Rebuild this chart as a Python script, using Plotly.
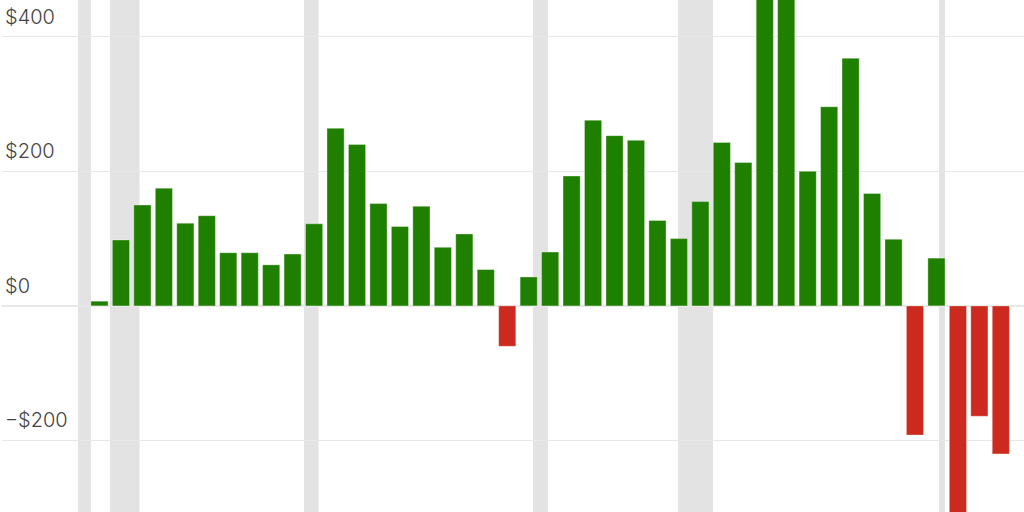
import plotly.graph_objects as go

# Data (annual values)
years = list(range(1981, 2024))
values = [7, 98, 150, 175, 123, 134, 79, 79, 61, 77,
          122, 264, 240, 152, 118, 148, 87, 107, 54, -60,
          43, 80, 193, 276, 253, 246, 127, 100, 155, 243,
          213, 520, 500, 200, 296, 368, 167, 99, -192, 71,
          -340, -164, -220]

# Recession bands (decimal years)
band_starts = [1980.0, 1981.49, 1990.53, 2001.2, 2007.96, 2020.12]
band_ends = [1980.6, 1982.87, 1991.21, 2001.9, 2009.59, 2020.40]

tick_vals = [-200, 0, 200, 400]
tick_text = ["\u2212$200", "$0", "$200", "$400"]

GREEN = "#1f8000"
RED = "#cc2a1e"
colors = [GREEN if v >= 0 else RED for v in values]

fig = go.Figure()
fig.add_trace(go.Bar(
    x=years, y=values,
    marker=dict(color=colors, line=dict(color="rgba(255,255,255,0.35)", width=1)),
    width=0.8,
    hoverinfo="skip",
))

for s, e in zip(band_starts, band_ends):
    fig.add_shape(type="rect", xref="x", yref="paper", x0=s, x1=e, y0=0, y1=1,
                  fillcolor="#e3e3e3", line=dict(width=0), layer="between")

fig.update_layout(
    width=1024, height=512,
    margin=dict(l=2, r=0, t=0, b=0, pad=0, autoexpand=False),
    paper_bgcolor="white", plot_bgcolor="white",
    showlegend=False,
    font=dict(family="Inter", size=20, color="#5a5a5a", weight=300),
)
fig.update_xaxes(range=[1976.457, 2024.08], showgrid=False, showticklabels=False,
                 zeroline=False, showline=False, ticks="", automargin=False)
fig.update_yaxes(range=[-306.3, 454.6], tickvals=tick_vals, ticktext=tick_text,
                 showgrid=True, gridcolor="#e8e8e8", gridwidth=1.5,
                 zeroline=False, showline=False, ticks="", automargin=False,
                 ticklabelposition="inside", ticklabelshift=-20, ticklabelstandoff=0)

fig.write_html("out.html",
               config={"displayModeBar": False, "staticPlot": True},
               post_script="document.body.style.margin='0';document.body.style.overflow='hidden';")
